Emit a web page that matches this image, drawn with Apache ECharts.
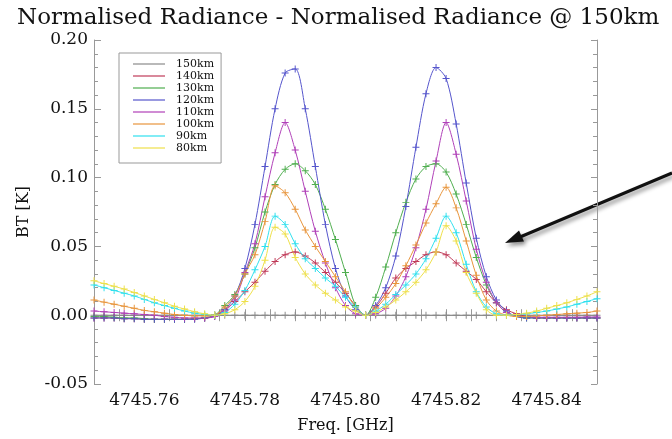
<!DOCTYPE html>
<html>
<head>
<meta charset="utf-8">
<script src="https://cdn.jsdelivr.net/npm/echarts@6/dist/echarts.min.js"></script>
<style>
  html, body { margin: 0; padding: 0; background: #fff; }
</style>
</head>
<body>
<div id="main" style="width: 672px;height:439px;"></div>
<script>
  // frequency grid [GHz]
  var freq = [
    4745.750, 4745.752, 4745.754, 4745.756, 4745.758, 4745.760, 4745.762, 4745.764, 4745.766, 4745.768,
    4745.770, 4745.772, 4745.774, 4745.776, 4745.778, 4745.780, 4745.782, 4745.784, 4745.786, 4745.788,
    4745.790, 4745.792, 4745.794, 4745.796, 4745.798, 4745.800, 4745.802, 4745.804, 4745.806, 4745.808,
    4745.810, 4745.812, 4745.814, 4745.816, 4745.818, 4745.820, 4745.822, 4745.824, 4745.826, 4745.828,
    4745.830, 4745.832, 4745.834, 4745.836, 4745.838, 4745.840, 4745.842, 4745.844, 4745.846, 4745.848,
    4745.850
  ];

  var names = ['150km', '140km', '130km', '120km', '110km', '100km', '90km', '80km'];

  var bt150 = [
    0, 0, 0, 0, 0, 0, 0, 0, 0, 0, 0, 0, 0, 0, 0, 0, 0, 0, 0, 0, 0, 0, 0, 0, 0, 0,
    0, 0, 0, 0, 0, 0, 0, 0, 0, 0, 0, 0, 0, 0, 0, 0, 0, 0, 0, 0, 0, 0, 0, 0, 0
  ];
  var bt140 = [
    -0.002, -0.002, -0.002, -0.0025, -0.0025, -0.003, -0.003, -0.003, -0.003, -0.003, -0.0025, -0.002, 0.000,
    0.004, 0.010, 0.017, 0.024, 0.032, 0.039, 0.044, 0.046, 0.043, 0.038, 0.031, 0.024, 0.016, 0.007, 0.000,
    0.006, 0.016, 0.027, 0.034, 0.039, 0.044, 0.046, 0.044, 0.038, 0.032, 0.026, 0.017, 0.009, 0.004,
    0.001, -0.001, -0.002, -0.002, -0.002, -0.002, -0.002, -0.002, -0.002
  ];
  var bt130 = [
    -0.001, -0.001, -0.0015, -0.002, -0.002, -0.0025, -0.003, -0.003, -0.003, -0.003, -0.0025, -0.002, 0.000,
    0.007, 0.015, 0.030, 0.049, 0.075, 0.095, 0.106, 0.110, 0.105, 0.095, 0.077, 0.055, 0.031, 0.007, 0.000,
    0.013, 0.035, 0.060, 0.082, 0.099, 0.108, 0.110, 0.104, 0.088, 0.066, 0.042, 0.022, 0.009, 0.002,
    -0.001, -0.002, -0.002, -0.002, -0.002, -0.002, -0.002, -0.002, -0.002
  ];
  var bt120 = [
    -0.002, -0.002, -0.002, -0.0025, -0.0025, -0.003, -0.003, -0.003, -0.003, -0.003, -0.003, -0.002, -0.001,
    0.004, 0.014, 0.034, 0.066, 0.108, 0.150, 0.176, 0.179, 0.150, 0.108, 0.066, 0.034, 0.014, 0.004, 0.000,
    0.007, 0.020, 0.043, 0.079, 0.122, 0.161, 0.180, 0.172, 0.139, 0.096, 0.056, 0.028, 0.011, 0.003,
    -0.001, -0.002, -0.002, -0.002, -0.002, -0.002, -0.002, -0.002, -0.002
  ];
  var bt110 = [
    0.003, 0.0025, 0.002, 0.0015, 0.001, 0.0005, 0.000, -0.001, -0.0015, -0.002, -0.002, -0.002, -0.001,
    0.003, 0.011, 0.031, 0.052, 0.086, 0.118, 0.140, 0.120, 0.090, 0.061, 0.038, 0.020, 0.007, 0.001, 0.000,
    0.001, 0.005, 0.014, 0.028, 0.049, 0.077, 0.112, 0.140, 0.117, 0.083, 0.048, 0.024, 0.009, 0.002,
    -0.001, -0.001, -0.0015, -0.0015, -0.0015, -0.0015, -0.0015, -0.0013, -0.0013
  ];
  var bt100 = [
    0.011, 0.0095, 0.008, 0.0065, 0.005, 0.0035, 0.0025, 0.0015, 0.0005, 0.000, -0.0005, -0.0005, 0.000,
    0.006, 0.014, 0.030, 0.044, 0.068, 0.094, 0.089, 0.077, 0.062, 0.050, 0.039, 0.028, 0.017, 0.006, 0.000,
    0.005, 0.013, 0.023, 0.036, 0.051, 0.067, 0.081, 0.093, 0.078, 0.054, 0.029, 0.011, 0.003, 0.000,
    -0.001, -0.001, -0.0005, 0.000, 0.0005, 0.001, 0.0015, 0.002, 0.003
  ];
  var bt90 = [
    0.022, 0.020, 0.018, 0.016, 0.014, 0.0115, 0.009, 0.007, 0.005, 0.003, 0.0015, 0.0005, 0.000,
    0.002, 0.008, 0.018, 0.033, 0.050, 0.072, 0.066, 0.052, 0.041, 0.034, 0.027, 0.021, 0.013, 0.006, 0.000,
    0.003, 0.008, 0.015, 0.022, 0.030, 0.041, 0.056, 0.072, 0.060, 0.037, 0.017, 0.006, 0.001, 0.000,
    0.0005, 0.001, 0.002, 0.003, 0.0045, 0.006, 0.008, 0.010, 0.012
  ];
  var bt80 = [
    0.025, 0.023, 0.021, 0.019, 0.0165, 0.014, 0.0115, 0.009, 0.0065, 0.0045, 0.0025, 0.001, 0.000,
    0.001, 0.004, 0.010, 0.021, 0.040, 0.064, 0.059, 0.042, 0.030, 0.022, 0.016, 0.011, 0.006, 0.003, 0.000,
    0.002, 0.006, 0.011, 0.017, 0.024, 0.033, 0.046, 0.065, 0.054, 0.031, 0.016, 0.004, 0.000, 0.000,
    0.0005, 0.0015, 0.003, 0.005, 0.007, 0.009, 0.0115, 0.014, 0.017
  ];

  var allBT = [bt150, bt140, bt130, bt120, bt110, bt100, bt90, bt80];
  var colors = ['#8a8a8a', '#c03a58', '#4fae4f', '#5555cc', '#b040b8', '#e8953c', '#2fe0ee', '#eee04a'];

  var plus = 'path://M4.3,0H5.7V4.3H10V5.7H5.7V10H4.3V5.7H0V4.3H4.3Z';
  var serif = 'DejaVu Serif';

  var myChart = echarts.init(document.getElementById('main'));

  var series = names.map(function (n, k) {
    return {
      name: n,
      type: 'line',
      data: freq.map(function (f, i) { return [f, allBT[k][i]]; }),
      smooth: 0.3,
      symbol: plus,
      symbolSize: 7,
      showAllSymbol: true,
      lineStyle: { width: 1, color: colors[k] },
      itemStyle: { color: colors[k] },
      z: k === 0 ? 1 : 2
    };
  });

  function boxAxis(pos) {
    return {
      type: 'value',
      position: pos,
      axisLine: { show: true, lineStyle: { color: '#999' } },
      axisTick: { show: true, inside: true, length: 6, lineStyle: { color: '#999' } },
      axisLabel: { show: false },
      splitLine: { show: false }
    };
  }

  var xTop = boxAxis('top');
  xTop.min = 4745.75; xTop.max = 4745.85; xTop.interval = 0.005;
  var yRight = boxAxis('right');
  yRight.min = -0.05; yRight.max = 0.2; yRight.interval = 0.05;
  yRight.minorTick = { show: true, splitNumber: 5, length: 4, lineStyle: { color: '#999' } };

  var option = {
    animation: false,
    color: colors,
    title: {
      text: 'Normalised Radiance - Normalised Radiance @ 150km',
      left: 12,
      top: 2,
      textStyle: { fontFamily: serif, fontSize: 23, fontWeight: 'normal', color: '#111' }
    },
    legend: {
      data: names,
      orient: 'vertical',
      left: 119,
      top: 53,
      padding: [5, 7, 9, 14],
      itemGap: 0,
      itemWidth: 32,
      itemHeight: 2,
      icon: 'rect',
      borderColor: '#999',
      borderWidth: 1,
      itemStyle: { opacity: 0.6 },
      textStyle: { fontFamily: serif, fontSize: 11, lineHeight: 12, color: '#111', padding: [0, 0, 0, 6] }
    },
    grid: { left: 94, right: 75, top: 40, bottom: 55 },
    xAxis: [
      {
        type: 'value',
        min: 4745.75,
        max: 4745.85,
        interval: 0.005,
        name: 'Freq. [GHz]',
        nameLocation: 'middle',
        nameGap: 34,
        nameTextStyle: { fontFamily: serif, fontSize: 16, color: '#111' },
        axisLine: { show: true, lineStyle: { color: '#999' } },
        axisTick: { show: true, inside: true, length: 6, lineStyle: { color: '#999' } },
        axisLabel: {
          fontFamily: serif, fontSize: 17, color: '#111', margin: 8,
          formatter: function (v) {
            var k = v * 50;
            return Math.abs(k - Math.round(k)) < 1e-4 ? v.toFixed(2) : '';
          }
        },
        splitLine: { show: false }
      },
      xTop
    ],
    yAxis: [
      {
        type: 'value',
        min: -0.05,
        max: 0.2,
        interval: 0.05,
        name: 'BT [K]',
        nameLocation: 'middle',
        nameGap: 62,
        nameTextStyle: { fontFamily: serif, fontSize: 16, color: '#111' },
        axisLine: { show: true, lineStyle: { color: '#999' } },
        axisTick: { show: true, inside: true, length: 7, lineStyle: { color: '#999' } },
        minorTick: { show: true, splitNumber: 5, length: 4, lineStyle: { color: '#999' } },
        axisLabel: {
          fontFamily: serif, fontSize: 17, color: '#111', margin: 6,
          formatter: function (v) { return v.toFixed(2); }
        },
        splitLine: { show: false }
      },
      yRight
    ],
    series: series,
    graphic: [
      {
        type: 'group',
        silent: true,
        children: [
          {
            type: 'line',
            shape: { x1: 672, y1: 173, x2: 520, y2: 237 },
            style: { stroke: '#111', lineWidth: 3, shadowBlur: 4, shadowColor: 'rgba(0,0,0,0.45)', shadowOffsetX: 2, shadowOffsetY: 3 }
          },
          {
            type: 'polygon',
            shape: { points: [[505, 243], [524, 241.5], [519, 230.5]] },
            style: { fill: '#111', shadowBlur: 4, shadowColor: 'rgba(0,0,0,0.45)', shadowOffsetX: 2, shadowOffsetY: 3 }
          }
        ]
      }
    ]
  };

  myChart.setOption(option);
</script>
</body>
</html>
